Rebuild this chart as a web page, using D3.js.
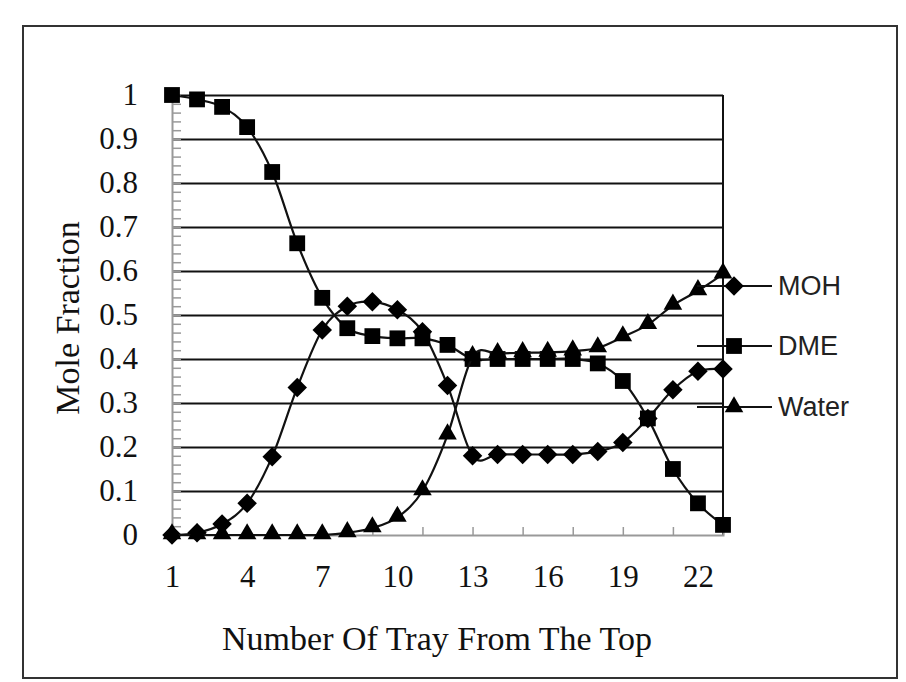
<!DOCTYPE html>
<html>
<head>
<meta charset="utf-8">
<script src="https://cdn.jsdelivr.net/npm/d3@7"></script>
<style>
  html, body { margin: 0; padding: 0; background: #fff; }
  svg { display: block; }
</style>
</head>
<body>
<svg id="chart" width="906" height="682"></svg>
<script>
// ---- data ----
const trays = [1,2,3,4,5,6,7,8,9,10,11,12,13,14,15,16,17,18,19,20,21,22,23];
const moh   = [0.0,0.005,0.025,0.072,0.178,0.335,0.466,0.52,0.53,0.512,0.462,0.34,0.18,0.183,0.183,0.183,0.183,0.19,0.21,0.265,0.33,0.372,0.377];
const dme   = [1.0,0.99,0.973,0.927,0.825,0.663,0.539,0.47,0.452,0.447,0.447,0.432,0.40,0.40,0.40,0.40,0.40,0.39,0.35,0.265,0.15,0.072,0.023];
const water = [0,0,0,0,0,0,0,0.005,0.016,0.04,0.1,0.227,0.405,0.412,0.414,0.415,0.418,0.425,0.45,0.478,0.522,0.555,0.593];
const seriesNames = ["MOH","DME","Water"];
const xTickLabels = [1,4,7,10,13,16,19,22];
const xMinorTicks = [1,3,5,7,9,11,13,15,17,19,21,23];
const yTickValues = [0,0.1,0.2,0.3,0.4,0.5,0.6,0.7,0.8,0.9,1];
const yTitle = "Mole Fraction";
const xTitle = "Number Of Tray From The Top";

// ---- layout ----
const svg = d3.select("#chart");
const L = 172, R = 723, T = 95, B = 535;
const x = d3.scaleLinear().domain([1,23]).range([L,R]);
const y = d3.scaleLinear().domain([0,1]).range([B,T]);
const serif = "'Liberation Serif', 'Times New Roman', serif";
const sans = "'Liberation Sans', Arial, sans-serif";

// outer border
svg.append("rect").attr("x",23).attr("y",26).attr("width",874).attr("height",652)
  .attr("fill","none").attr("stroke","#333").attr("stroke-width",2);

// gridlines
const grid = svg.append("g").attr("transform",`translate(${L},0)`)
  .call(d3.axisLeft(y).tickValues(yTickValues.filter(v=>v>0)).tickSize(-(R-L)).tickFormat(""));
grid.select(".domain").remove();
grid.selectAll("line").attr("stroke","#111").attr("stroke-width",2);

// right border of plot area
svg.append("line").attr("x1",R).attr("x2",R).attr("y1",T).attr("y2",B)
  .attr("stroke","#111").attr("stroke-width",2);

// y minor ticks (inside, grey)
const yMinor = svg.append("g").attr("transform",`translate(${L},0)`)
  .call(d3.axisRight(y).tickValues(d3.range(0,51).map(i=>i/50)).tickSize(9).tickFormat(""));
yMinor.selectAll("line").attr("stroke","#999").attr("stroke-width",1.5);
yMinor.select(".domain").remove();

// y axis labels
const yAx = svg.append("g").attr("transform",`translate(${L},0)`)
  .call(d3.axisLeft(y).tickValues(yTickValues).tickSize(0).tickPadding(34)
    .tickFormat(d => (d===0||d===1) ? String(d) : d.toFixed(1)));
yAx.select(".domain").attr("stroke","#999").attr("stroke-width",2);
yAx.selectAll("text").attr("font-family",serif).attr("font-size",31).attr("fill","#111");

// x axis line and ticks (grey, pointing up)
const xMinor = svg.append("g").attr("transform",`translate(0,${B})`)
  .call(d3.axisTop(x).tickValues(xMinorTicks).tickSize(8).tickFormat(""));
xMinor.select(".domain").attr("stroke","#999").attr("stroke-width",2);
xMinor.selectAll("line").attr("stroke","#999").attr("stroke-width",1.5);

const xAx = svg.append("g").attr("transform",`translate(0,${B})`)
  .call(d3.axisBottom(x).tickValues(xTickLabels).tickSize(0).tickPadding(30));
xAx.select(".domain").remove();
xAx.selectAll("text").attr("font-family",serif).attr("font-size",31).attr("fill","#111");

// titles
svg.append("text").attr("x",437).attr("y",650).attr("text-anchor","middle")
  .attr("font-family",serif).attr("font-size",34).attr("fill","#111").text(xTitle);
svg.append("text").attr("transform","translate(79,318) rotate(-90)").attr("text-anchor","middle")
  .attr("font-family",serif).attr("font-size",34).attr("fill","#111").text(yTitle);

// series
const symbols = {
  MOH:   d3.symbol().type(d3.symbolSquare).size(190),
  DME:   d3.symbol().type(d3.symbolSquare).size(250),
  Water: d3.symbol().type(d3.symbolTriangle).size(150)
};
const rot = { MOH: 45, DME: 0, Water: 0 };
const dataBy = { MOH: moh, DME: dme, Water: water };
const line = d3.line().x(d=>x(d[0])).y(d=>y(d[1])).curve(d3.curveCatmullRom.alpha(0));

seriesNames.forEach(name => {
  const pts = trays.map((t,i) => [t, dataBy[name][i]]);
  svg.append("path").datum(pts).attr("d",line)
    .attr("fill","none").attr("stroke","#111").attr("stroke-width",2.2);
  svg.append("g").selectAll("path").data(pts).join("path")
    .attr("d", symbols[name]())
    .attr("transform", d => `translate(${x(d[0])},${y(d[1]) - (name==="Water"?1:0)}) rotate(${rot[name]})`)
    .attr("fill","#000");
});

// legend
const legendY = { MOH: 286, DME: 346, Water: 407 };
seriesNames.forEach(name => {
  const ly = legendY[name];
  svg.append("line").attr("x1",697).attr("x2",772).attr("y1",ly).attr("y2",ly)
    .attr("stroke","#111").attr("stroke-width",2);
  svg.append("path").attr("d", symbols[name]())
    .attr("transform", `translate(734,${ly}) rotate(${rot[name]})`).attr("fill","#000");
  svg.append("text").attr("x",778).attr("y",ly).attr("dy","0.35em")
    .attr("font-family",sans).attr("font-size",27).attr("fill","#222").text(name);
});
</script>
</body>
</html>
